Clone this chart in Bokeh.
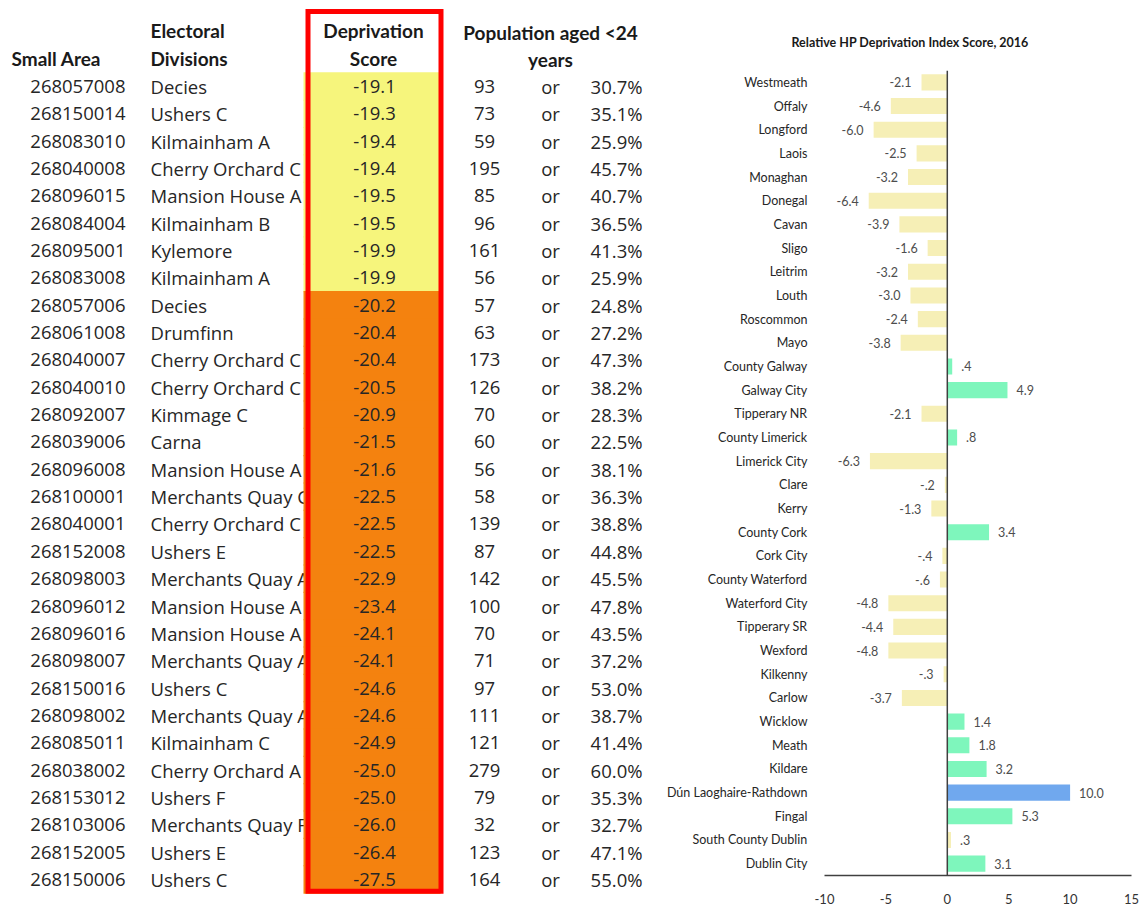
from bokeh.plotting import figure
from bokeh.models import ColumnDataSource, Range1d, FactorRange, FixedTicker, Span, Title
from bokeh.layouts import row
from bokeh.core.properties import value
from bokeh.embed import file_html
from bokeh.resources import INLINE

# ---------------- table data ----------------
small_area = ["268057008", "268150014", "268083010", "268040008", "268096015", "268084004",
              "268095001", "268083008", "268057006", "268061008", "268040007", "268040010",
              "268092007", "268039006", "268096008", "268100001", "268040001", "268152008",
              "268098003", "268096012", "268096016", "268098007", "268150016", "268098002",
              "268085011", "268038002", "268153012", "268103006", "268152005", "268150006"]
divisions = ["Decies", "Ushers C", "Kilmainham A", "Cherry Orchard C", "Mansion House A",
             "Kilmainham B", "Kylemore", "Kilmainham A", "Decies", "Drumfinn",
             "Cherry Orchard C", "Cherry Orchard C", "Kimmage C", "Carna", "Mansion House A",
             "Merchants Quay C", "Cherry Orchard C", "Ushers E", "Merchants Quay A",
             "Mansion House A", "Mansion House A", "Merchants Quay A", "Ushers C",
             "Merchants Quay A", "Kilmainham C", "Cherry Orchard A", "Ushers F",
             "Merchants Quay F", "Ushers E", "Ushers C"]
scores = [-19.1, -19.3, -19.4, -19.4, -19.5, -19.5, -19.9, -19.9, -20.2, -20.4,
          -20.4, -20.5, -20.9, -21.5, -21.6, -22.5, -22.5, -22.5, -22.9, -23.4,
          -24.1, -24.1, -24.6, -24.6, -24.9, -25.0, -25.0, -26.0, -26.4, -27.5]
population = [93, 73, 59, 195, 85, 96, 161, 56, 57, 63, 173, 126, 70, 60, 56,
              58, 139, 87, 142, 100, 70, 71, 97, 111, 121, 279, 79, 32, 123, 164]
percent = [30.7, 35.1, 25.9, 45.7, 40.7, 36.5, 41.3, 25.9, 24.8, 27.2, 47.3, 38.2,
           28.3, 22.5, 38.1, 36.3, 38.8, 44.8, 45.5, 47.8, 43.5, 37.2, 53.0, 38.7,
           41.4, 60.0, 35.3, 32.7, 47.1, 55.0]

# ---------------- bar chart data ----------------
counties = ["Westmeath", "Offaly", "Longford", "Laois", "Monaghan", "Donegal", "Cavan",
            "Sligo", "Leitrim", "Louth", "Roscommon", "Mayo", "County Galway",
            "Galway City", "Tipperary NR", "County Limerick", "Limerick City", "Clare",
            "Kerry", "County Cork", "Cork City", "County Waterford", "Waterford City",
            "Tipperary SR", "Wexford", "Kilkenny", "Carlow", "Wicklow", "Meath",
            "Kildare", "Dún Laoghaire-Rathdown", "Fingal", "South County Dublin",
            "Dublin City"]
hp_scores = [-2.1, -4.6, -6.0, -2.5, -3.2, -6.4, -3.9, -1.6, -3.2, -3.0, -2.4, -3.8,
             0.4, 4.9, -2.1, 0.8, -6.3, -0.2, -1.3, 3.4, -0.4, -0.6, -4.8, -4.4,
             -4.8, -0.3, -3.7, 1.4, 1.8, 3.2, 10.0, 5.3, 0.3, 3.1]
x_ticks = [-10, -5, 0, 5, 10, 15]

# ---------------- styles ----------------
DATA_FONT = value("Open Sans")
HEAD_FONT = value("Lato")
TEXT_COL = "#262626"
YELLOW_CELL = "#F6F57C"
ORANGE_CELL = "#F4820F"
BAR_NEG = "#F6EFB6"
BAR_POS = "#7EF6BC"
BAR_TOP = "#70A8EE"

# ================= left: table =================
n = len(small_area)
rows = list(range(n))
left = figure(width=663, height=906, output_backend="svg", toolbar_location=None,
              x_range=Range1d(0, 663), y_range=Range1d(29.99, -3.146),
              x_axis_location=None, y_axis_location=None, min_border=0,
              frame_align=False)
left.grid.visible = False
left.outline_line_color = None

tsrc = ColumnDataSource(dict(
    row=rows,
    area=small_area,
    div=divisions,
    score=[f"{s:.1f}" for s in scores],
    pop=[str(v) for v in population],
    orw=["or"] * n,
    pct=[f"{v:.1f}%" for v in percent],
    top=[r - 0.52 for r in rows],
    bottom=[r + 0.52 for r in rows],
    fill=[YELLOW_CELL if s >= -20 else ORANGE_CELL for s in scores],
))

common = dict(text_font=DATA_FONT, text_font_size="18.5px", text_color=TEXT_COL,
              text_baseline="middle", source=tsrc)
left.text(x=125, y="row", text="area", text_align="right", **common)
left.text(x=150, y="row", text="div", text_align="left", **common)
# coloured score cells (drawn over the division names, clipping them)
left.quad(left=303, right=440, top="top", bottom="bottom", fill_color="fill",
          line_color=None, source=tsrc)
left.text(x=374, y="row", text="score", text_align="center", **common)
left.text(x=484, y="row", text="pop", text_align="center", **common)
left.text(x=550, y="row", text="orw", text_align="center", **common)
left.text(x=642, y="row", text="pct", text_align="right", **common)

head = dict(text_font=HEAD_FONT, text_font_style="bold", text_font_size="19px",
            text_color="#1a1a1a", text_baseline="middle")
left.text(x=[11], y=[-1.03], text=["Small Area"], text_align="left", **head)
left.text(x=[150, 150], y=[-2.04, -1.04], text=["Electoral", "Divisions"], text_align="left", **head)
left.text(x=[373, 373], y=[-2.04, -1.04], text=["Deprivation", "Score"], text_align="center", **head)
left.text(x=[550, 550], y=[-1.97, -0.99], text=["Population aged <24", "years"],
          text_align="center", **head)

# red box around the score column
left.quad(left=[307.5], right=[440.5], top=[-2.745], bottom=[29.43],
          fill_color=None, line_color="#FF0000", line_width=5, line_join="miter")

# ================= right: bar chart =================
right = figure(width=476, height=906, output_backend="svg", toolbar_location=None,
               x_range=Range1d(-10, 15), y_range=FactorRange(*reversed(counties)),
               min_border_left=160, min_border_right=8, min_border_top=70,
               min_border_bottom=29, frame_align=False)
right.grid.visible = False
right.outline_line_color = None

max_v = max(hp_scores)
colors = [BAR_TOP if v == max_v else (BAR_POS if v > 0.3 else BAR_NEG) for v in hp_scores]


def fmt(v):
    s = f"{v:.1f}"
    if abs(v) < 1:
        s = s.replace("0.", ".", 1)
    return s


bsrc = ColumnDataSource(dict(cat=counties, val=hp_scores, col=colors,
                             lab=[fmt(v) for v in hp_scores]))
right.hbar(y="cat", left=0, right="val", height=0.68, fill_color="col",
           line_color=None, source=bsrc)

pos_i = [i for i, v in enumerate(hp_scores) if v >= 0]
neg_i = [i for i, v in enumerate(hp_scores) if v < 0]
psrc = ColumnDataSource(dict(cat=[counties[i] for i in pos_i], val=[hp_scores[i] for i in pos_i],
                             lab=[fmt(hp_scores[i]) for i in pos_i]))
nsrc = ColumnDataSource(dict(cat=[counties[i] for i in neg_i], val=[hp_scores[i] for i in neg_i],
                             lab=[fmt(hp_scores[i]) for i in neg_i]))
lab_style = dict(text_font=HEAD_FONT, text_font_size="12.5px", text_color="#4d4d4d",
                 text_baseline="middle")
right.text(x="val", y="cat", text="lab", x_offset=9, text_align="left", source=psrc, **lab_style)
right.text(x="val", y="cat", text="lab", x_offset=-10, text_align="right", source=nsrc, **lab_style)

right.add_layout(Span(location=0, dimension="height", line_color="#404040", line_width=1.5))

# axes
yax = right.yaxis[0]
yax.axis_line_color = None
yax.major_tick_line_color = None
yax.minor_tick_line_color = None
yax.major_label_standoff = 11
yax.major_label_text_font = "Lato"
yax.major_label_text_font_size = "12.5px"
yax.major_label_text_color = "#262626"

xax = right.xaxis[0]
xax.ticker = FixedTicker(ticks=x_ticks)
xax.major_label_overrides = {t: str(t) for t in x_ticks}
xax.axis_line_color = "#404040"
xax.axis_line_width = 1.5
xax.major_tick_line_color = None
xax.minor_tick_line_color = None
xax.major_label_standoff = 12
xax.major_label_text_font = "Lato"
xax.major_label_text_font_size = "13px"
xax.major_label_text_color = "#333333"

right.add_layout(Title(text="Relative HP Deprivation Index Score, 2016", align="left",
                       offset=-33, text_font="Lato", text_font_style="bold",
                       text_font_size="12.5px", text_color="#1a1a1a", standoff=42), "above")

layout = row(left, right, spacing=0)
open("out.html", "w").write(file_html(layout, INLINE))
